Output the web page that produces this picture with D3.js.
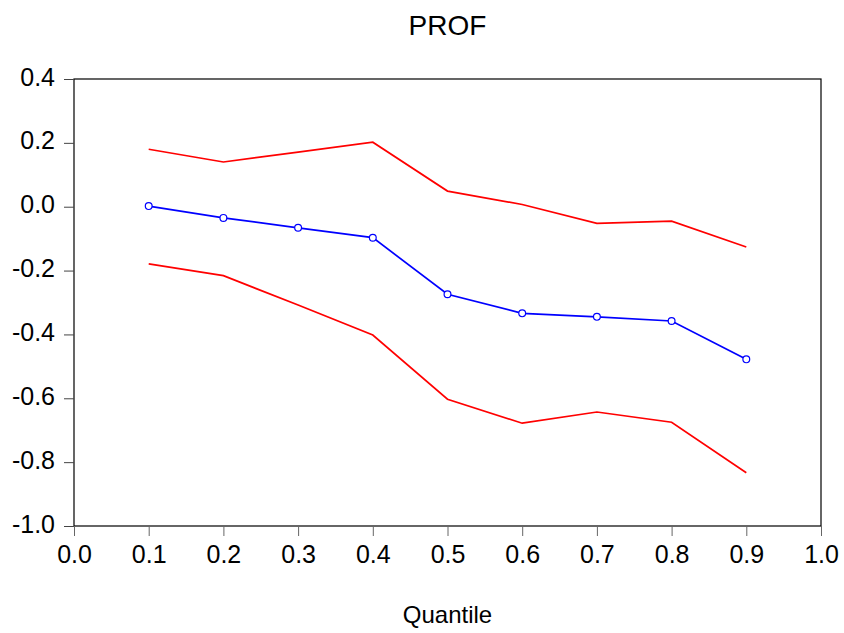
<!DOCTYPE html>
<html>
<head>
<meta charset="utf-8">
<script src="https://cdn.jsdelivr.net/npm/d3@7"></script>
<style>
  body { margin: 0; background: #fff; }
  text { font-family: "Liberation Sans", Arial, sans-serif; }
</style>
</head>
<body>
<div id="chart"></div>
<script>
var quantiles = [0.1, 0.2, 0.3, 0.4, 0.5, 0.6, 0.7, 0.8, 0.9];
var coef  = [0.002, -0.035, -0.066, -0.097, -0.274, -0.334, -0.345, -0.358, -0.478];
var upper = [0.180, 0.140, 0.171, 0.202, 0.049, 0.007, -0.052, -0.045, -0.126];
var lower = [-0.179, -0.216, -0.308, -0.402, -0.603, -0.678, -0.643, -0.675, -0.833];
var xTicks = [0.0, 0.1, 0.2, 0.3, 0.4, 0.5, 0.6, 0.7, 0.8, 0.9, 1.0];
var yTicks = [0.4, 0.2, 0.0, -0.2, -0.4, -0.6, -0.8, -1.0];

var W = 844, H = 633;
var margin = {top: 79, right: 23, bottom: 107, left: 74};
var width = W - margin.left - margin.right;
var height = H - margin.top - margin.bottom;

var svg = d3.select("#chart").append("svg")
    .attr("width", W)
    .attr("height", H);

var g = svg.append("g")
    .attr("transform", "translate(" + margin.left + "," + margin.top + ")");

var x = d3.scaleLinear().domain([0, 1]).range([0, width]);
var y = d3.scaleLinear().domain([-1, 0.4]).range([height, 0]);

// frame
g.append("rect")
    .attr("x", 0).attr("y", 0)
    .attr("width", width).attr("height", height)
    .attr("fill", "none")
    .attr("stroke", "#000")
    .attr("stroke-width", 1.2);

// y axis
var yAxis = g.append("g")
    .call(d3.axisLeft(y).tickValues(yTicks).tickSize(10).tickPadding(9));
yAxis.select(".domain").remove();
yAxis.selectAll("line").attr("stroke", "#444");
yAxis.selectAll("text")
    .attr("font-size", 25)
    .attr("fill", "#000")
    .attr("dy", 6)
    .text(function(d) { return d3.format(".1f")(d).replace("−", "-"); });

// x axis
var xAxis = g.append("g")
    .attr("transform", "translate(0," + height + ")")
    .call(d3.axisBottom(x).tickValues(xTicks).tickFormat(d3.format(".1f")).tickSize(10));
xAxis.select(".domain").remove();
xAxis.selectAll("line").attr("stroke", "#666");
xAxis.selectAll("text")
    .attr("font-size", 25)
    .attr("fill", "#000")
    .attr("dy", 0)
    .attr("y", 37);

var line = d3.line()
    .x(function(d, i) { return x(quantiles[i]); })
    .y(function(d) { return y(d); });

[upper, lower].forEach(function(s) {
    g.append("path")
        .datum(s)
        .attr("fill", "none")
        .attr("stroke", "#ff0000")
        .attr("stroke-width", 1.7)
        .attr("d", line);
});

g.append("path")
    .datum(coef)
    .attr("fill", "none")
    .attr("stroke", "#0000ff")
    .attr("stroke-width", 1.7)
    .attr("d", line);

g.selectAll(".dot")
    .data(coef)
    .enter()
    .append("circle")
    .attr("class", "dot")
    .attr("cx", function(d, i) { return x(quantiles[i]); })
    .attr("cy", function(d) { return y(d); })
    .attr("r", 3.4)
    .attr("fill", "#fff")
    .attr("stroke", "#0000ff")
    .attr("stroke-width", 1.2);

// title
svg.append("text")
    .attr("x", margin.left + width / 2)
    .attr("y", 35)
    .attr("text-anchor", "middle")
    .attr("font-size", 28)
    .text("PROF");

svg.append("text")
    .attr("x", margin.left + width / 2)
    .attr("y", 623)
    .attr("text-anchor", "middle")
    .attr("font-size", 24)
    .text("Quantile");
</script>
</body>
</html>
